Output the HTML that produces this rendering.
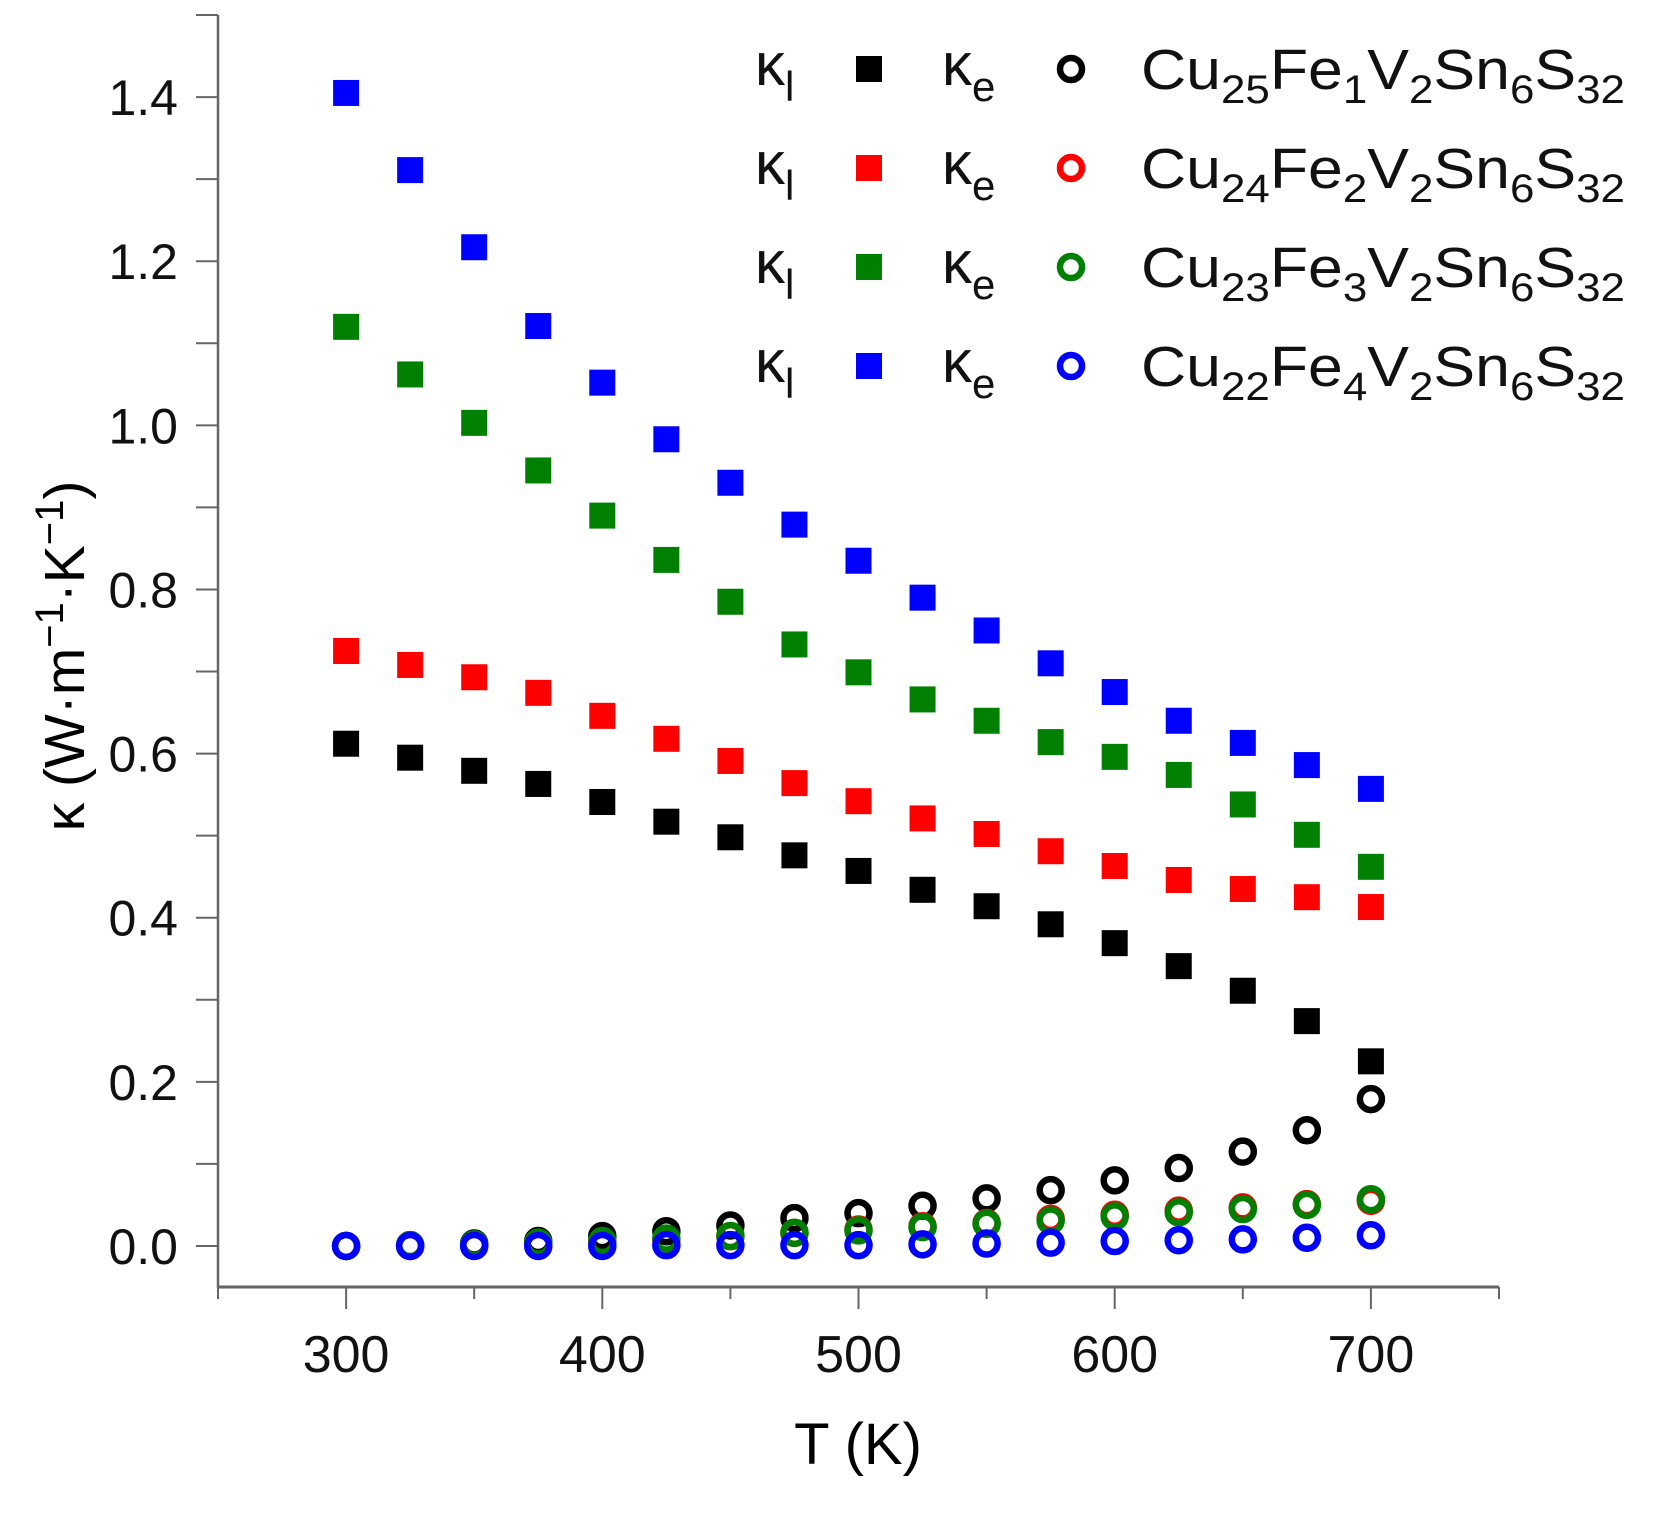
<!DOCTYPE html>
<html><head><meta charset="utf-8"><style>
html,body{margin:0;padding:0;background:#fff;}
svg{display:block;font-family:"Liberation Sans",Arial,sans-serif;}
</style></head><body>
<svg id="chart" width="1660" height="1521" viewBox="0 0 1660 1521" xmlns="http://www.w3.org/2000/svg">
<g id="axes"></g>
<g id="marks"></g>
<g id="legend"></g>
<text x="858" y="1464" font-size="58" text-anchor="middle">T (K)</text>
<text transform="translate(84,656) rotate(-90)" font-size="57" text-anchor="middle">κ (W·m<tspan dy="-21" font-size="40">−1</tspan><tspan dy="21">·K</tspan><tspan dy="-21" font-size="40">−1</tspan><tspan dy="21">)</tspan></text>
</svg>
<script>
const temps=[300,325,350,375,400,425,450,475,500,525,550,575,600,625,650,675,700];
const kl1=[0.612,0.595,0.579,0.563,0.541,0.517,0.498,0.476,0.457,0.434,0.414,0.392,0.369,0.341,0.311,0.274,0.225];
const kl2=[0.725,0.708,0.693,0.674,0.646,0.618,0.591,0.564,0.542,0.521,0.502,0.481,0.463,0.446,0.435,0.425,0.413];
const kl3=[1.12,1.062,1.003,0.945,0.890,0.836,0.785,0.733,0.699,0.666,0.640,0.614,0.596,0.574,0.538,0.501,0.462];
const kl4=[1.405,1.311,1.217,1.121,1.052,0.983,0.930,0.879,0.835,0.790,0.750,0.710,0.675,0.640,0.613,0.586,0.557];
const ke1=[0,0.001,0.003,0.006,0.012,0.018,0.025,0.034,0.040,0.049,0.058,0.068,0.080,0.095,0.115,0.141,0.179];
const ke2=[0,0,0.001,0.003,0.005,0.008,0.012,0.016,0.020,0.024,0.028,0.033,0.038,0.043,0.047,0.051,0.055];
const ke3=[0,0.001,0.002,0.004,0.006,0.009,0.012,0.016,0.019,0.023,0.027,0.031,0.036,0.041,0.045,0.050,0.057];
const ke4=[0,0,0,0,0,0.001,0.001,0.001,0.001,0.002,0.003,0.004,0.006,0.007,0.008,0.010,0.013];
const xTicks=[300,400,500,600,700];
const yTicks=[0.0,0.2,0.4,0.6,0.8,1.0,1.2,1.4];
const seriesColors=['#000000','#ff0000','#008000','#0000ff'];
const seriesNames=[['25','1'],['24','2'],['23','3'],['22','4']];

const NS='http://www.w3.org/2000/svg';
const X0=218,X1=1499,Y0=1287,Y1=15;
const xmin=250,xmax=750,ymin=-0.05,ymax=1.5;
function xs(v){return X0+(v-xmin)/(xmax-xmin)*(X1-X0);}
function ys(v){return Y0-(v-ymin)/(ymax-ymin)*(Y0-Y1);}
function mk(tag,attrs,parent){const e=document.createElementNS(NS,tag);for(const k in attrs)e.setAttribute(k,attrs[k]);parent.appendChild(e);return e;}

const axes=document.getElementById('axes');
let el=mk('line',{x1:X0,y1:Y1,x2:X0,y2:Y0+1,stroke:'#666','stroke-width':2.5},axes);


el=mk('line',{x1:X0,y1:Y0,x2:X1,y2:Y0,stroke:'#666','stroke-width':3},axes);


for(let v=0;v<=1.5001;v+=0.1){
  const y=ys(v);
  el=mk('line',{x1:X0-22,y1:y,x2:X0,y2:y,stroke:'#666','stroke-width':2},axes);
  
  
}
yTicks.forEach(v=>{
  el=mk('text',{x:178,y:ys(v)+18,'font-size':50,'text-anchor':'end',fill:'#111'},axes);
  el.textContent=v.toFixed(1);
  
  
});
for(let v=250;v<=750;v+=50){
  const major=(v%100===0);
  el=mk('line',{x1:xs(v),y1:Y0,x2:xs(v),y2:Y0+(major?22:12),stroke:'#666','stroke-width':2},axes);
  
  
}
xTicks.forEach(v=>{
  el=mk('text',{x:xs(v),y:1372,'font-size':52,'text-anchor':'middle',fill:'#111'},axes);
  el.textContent=String(v);
  
  
});

const marks=document.getElementById('marks');
const kls=[kl1,kl2,kl3,kl4], kes=[ke1,ke2,ke3,ke4];
kls.forEach((arr,si)=>{
  arr.forEach((v,i)=>{
    el=mk('rect',{x:xs(temps[i])-13,y:ys(v)-13,width:26,height:26,fill:seriesColors[si]},marks);
    
    
  });
});
kes.forEach((arr,si)=>{
  arr.forEach((v,i)=>{
    el=mk('circle',{cx:xs(temps[i]),cy:ys(v),r:11,fill:'none',stroke:seriesColors[si],'stroke-width':6.5},marks);
    
    
  });
});

const legend=document.getElementById('legend');
const rowY=[69,168,267,366];
seriesNames.forEach((nm,i)=>{
  const cy=rowY[i], c=seriesColors[i];
  el=mk('text',{x:755,y:cy+16,'font-size':60,fill:'#111'},legend);
  el.innerHTML='κ<tspan dy="16" font-size="42">l</tspan>';
  
  
  el=mk('rect',{x:856,y:cy-13,width:26,height:26,fill:c},legend);
  
  
  el=mk('text',{x:942,y:cy+16,'font-size':60,fill:'#111'},legend);
  el.innerHTML='κ<tspan dy="16" font-size="42">e</tspan>';
  
  
  el=mk('circle',{cx:1071,cy:cy,r:11,fill:'none',stroke:c,'stroke-width':6.5},legend);
  
  
  el=mk('text',{x:1141,y:cy+20,'font-size':57,fill:'#111',textLength:484,lengthAdjust:'spacingAndGlyphs'},legend);
  el.innerHTML='Cu<tspan dy="14" font-size="40">'+nm[0]+'</tspan><tspan dy="-14">Fe</tspan><tspan dy="14" font-size="40">'+nm[1]+'</tspan><tspan dy="-14">V</tspan><tspan dy="14" font-size="40">2</tspan><tspan dy="-14">Sn</tspan><tspan dy="14" font-size="40">6</tspan><tspan dy="-14">S</tspan><tspan dy="14" font-size="40">32</tspan>';
  
  
});
</script>
</body></html>
